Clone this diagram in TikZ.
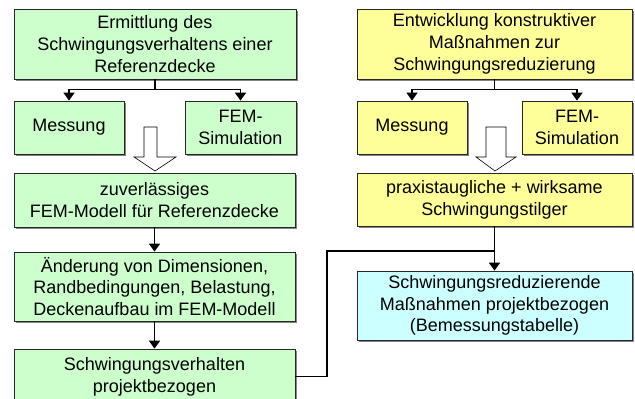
\documentclass[tikz,border=0pt]{standalone}
\usepackage{fontspec}
\setmainfont{Liberation Sans}
\usetikzlibrary{arrows.meta,shadows}
\definecolor{boxgreen}{HTML}{CCFFCC}
\definecolor{boxyellow}{HTML}{FFFF99}
\definecolor{boxcyan}{HTML}{CCFFFF}
\begin{document}
\begin{tikzpicture}[x=1pt,y=-1pt,
  box/.style={draw=black!85, line width=0.8pt, align=center, inner sep=0pt,
    font=\fontsize{18}{21.8}\selectfont,
    drop shadow={shadow xshift=1.5pt, shadow yshift=-1.5pt, fill=black!60, opacity=0.8}},
  gbox/.style={box, fill=boxgreen},
  ybox/.style={box, fill=boxyellow},
  cbox/.style={box, fill=boxcyan},
  conn/.style={line width=1.8pt, black},
  arr/.style={conn, -{Triangle[width=11pt,length=8pt]}},
  hollow/.style={draw=black, line width=0.6pt, fill=white, line join=miter}]
\useasboundingbox (0,0) rectangle (635,399);
% left column
\node[gbox, minimum width=282pt, minimum height=70pt] (L1) at (155,44)
  {Ermittlung des\\Schwingungsverhaltens einer\\Referenzdecke};
\node[gbox, minimum width=110pt, minimum height=53pt] (LM) at (69,127.5) {Messung};
\node[gbox, minimum width=111pt, minimum height=53pt] (LF) at (240.5,127.5) {FEM-\\Simulation};
\node[gbox, minimum width=281pt, minimum height=54pt] (L3) at (154.5,200)
  {zuverlässiges\\FEM-Modell für Referenzdecke};
\node[gbox, minimum width=281pt, minimum height=69pt] (L4) at (154.5,286.5)
  {Änderung von Dimensionen,\\Randbedingungen, Belastung,\\Deckenaufbau im FEM-Modell};
\node[gbox, minimum width=281pt, minimum height=55pt] (L5) at (154.5,376.5)
  {Schwingungsverhalten\\projektbezogen};
% right column
\node[ybox, minimum width=275pt, minimum height=70pt] (R1) at (494.5,44)
  {Entwicklung konstruktiver\\Maßnahmen zur\\Schwingungsreduzierung};
\node[ybox, minimum width=110pt, minimum height=53pt] (RM) at (412,127.5) {Messung};
\node[ybox, minimum width=110pt, minimum height=53pt] (RF) at (577,127.5) {FEM-\\Simulation};
\node[ybox, minimum width=275pt, minimum height=53pt] (R3) at (494.5,199.5)
  {praxistaugliche + wirksame\\Schwingungstilger};
\node[cbox, minimum width=275pt, minimum height=69pt] (RC) at (494.5,305.5)
  {Schwingungsreduzierende\\Maßnahmen projektbezogen\\(Bemessungstabelle)};
% connectors
\draw[arr] (L1.south) -- ++(0,10) -| (LM.north);
\draw[arr] (L1.south) -- ++(0,10) -| (LF.north);
\draw[arr] (R1.south) -- ++(0,10) -| (RM.north);
\draw[arr] (R1.south) -- ++(0,10) -| (RF.north);
\draw[arr] (L3.south) -- (L4.north);
\draw[arr] (L4.south) -- (L5.north);
\coordinate (J) at (494.5,251);
\draw[conn] (L5.east) -- (327,376.5) -- (327,251) -- (J);
\draw[arr] (R3.south) -- (RC.north);
% hollow arrows
\draw[hollow] (144,127) -- (157,127) -- (157,157) -- (176,157) -- (155,171) -- (134,157) -- (144,157) -- cycle;
\draw[hollow] (486,127) -- (506,127) -- (506,157) -- (516,157) -- (495,171) -- (476,157) -- (486,157) -- cycle;
\end{tikzpicture}
\end{document}
